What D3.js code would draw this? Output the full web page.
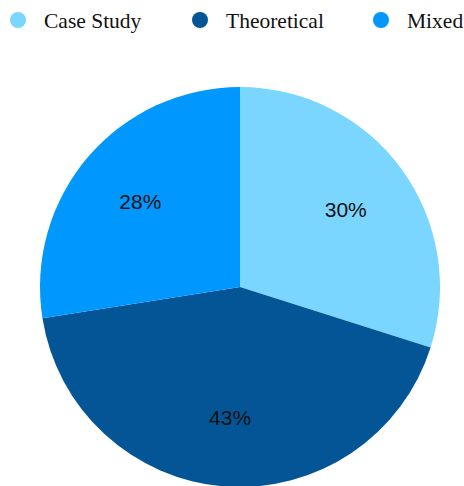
<!DOCTYPE html>
<html>
<head>
<meta charset="utf-8">
<script src="https://cdn.jsdelivr.net/npm/d3@7"></script>
<style>
  html, body { margin: 0; padding: 0; background: #fff; }
  svg { display: block; }
</style>
</head>
<body>
<svg id="chart" width="464" height="486"></svg>
<script>
// Research approach shares
const categories = ["Case Study", "Theoretical", "Mixed"];
const values = [29.9, 42.6, 27.5];
const colors = ["#7ad5ff", "#035596", "#0098ff"];

const svg = d3.select("#chart");
const cx = 240, cy = 287, radius = 200;

const color = d3.scaleOrdinal().domain(categories).range(colors);
const data = categories.map((c, i) => ({ category: c, value: values[i] }));
const total = d3.sum(values);

const pie = d3.pie().value(d => d.value).sort(null);
const arc = d3.arc().innerRadius(0).outerRadius(radius);
const labelArc = d3.arc().innerRadius(radius * 0.655).outerRadius(radius * 0.655);

const g = svg.append("g").attr("transform", `translate(${cx},${cy})`);
const arcs = pie(data);

g.selectAll("path.slice")
  .data(arcs)
  .join("path")
  .attr("class", "slice")
  .attr("d", arc)
  .attr("fill", d => color(d.data.category));

g.selectAll("text.pct")
  .data(arcs)
  .join("text")
  .attr("class", "pct")
  .attr("transform", d => `translate(${labelArc.centroid(d)})`)
  .attr("text-anchor", "middle")
  .attr("dy", "0.35em")
  .attr("font-family", "Liberation Sans, Arial, sans-serif")
  .attr("font-size", 21)
  .attr("fill", "#111")
  .text(d => Math.round(d.data.value / total * 100) + "%");

// Legend along the top
const legendX = [18, 200, 381];
const legend = svg.append("g").attr("class", "legend");
const items = legend.selectAll("g.item")
  .data(categories)
  .join("g")
  .attr("class", "item")
  .attr("transform", (d, i) => `translate(${legendX[i]},20)`);

items.append("circle")
  .attr("r", 8)
  .attr("fill", d => color(d));

items.append("text")
  .attr("x", 26)
  .attr("y", 8)
  .attr("font-family", "Liberation Serif, Times New Roman, serif")
  .attr("font-size", 21.5)
  .attr("fill", "#111")
  .text(d => d);
</script>
</body>
</html>
